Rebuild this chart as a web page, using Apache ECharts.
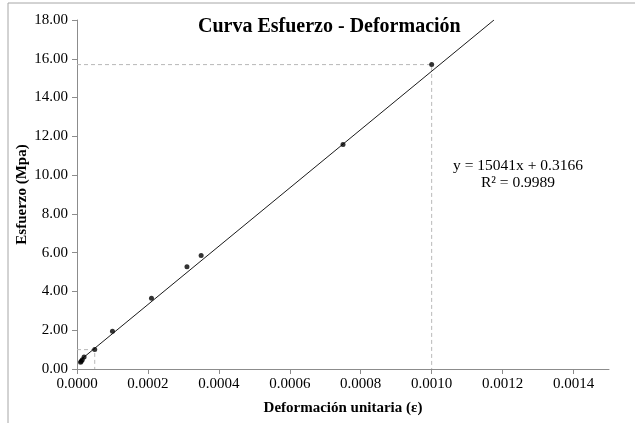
<!DOCTYPE html>
<html>
<head>
<meta charset="utf-8">
<script src="https://cdn.jsdelivr.net/npm/echarts@6/dist/echarts.min.js"></script>
<style>html,body{margin:0;padding:0;background:#fff;}#c{width:635px;height:423px;}</style>
</head>
<body>
<div id="c"></div>
<script>
var strain = [0.00001, 0.000012, 0.000015, 0.00002, 0.00005, 0.0001, 0.00021, 0.00031, 0.00035, 0.00075, 0.001];
var stress = [0.35, 0.40, 0.48, 0.62, 1.00, 1.95, 3.65, 5.28, 5.85, 11.58, 15.70];
var trendSlope = 15041;
var trendIntercept = 0.3166;
var trendR2 = '0.9989';
var xTicks = [0, 0.0002, 0.0004, 0.0006, 0.0008, 0.0010, 0.0012, 0.0014];
var yTicks = [0, 2, 4, 6, 8, 10, 12, 14, 16, 18];
var guideHigh = [0.001, 15.70];
var guideLow = [0.00005, 1.00];

var font = '"Liberation Serif", "Times New Roman", serif';
var pts = strain.map(function (x, i) { return [x, stress[i]]; });
var yMax = yTicks[yTicks.length - 1];
var xStart = strain[0];
var xEnd = (yMax - trendIntercept) / trendSlope;
var trend = [[xStart, trendSlope * xStart + trendIntercept], [xEnd, yMax]];

var chart = echarts.init(document.getElementById('c'), null, {renderer: 'canvas'});
chart.setOption({
  animation: false,
  backgroundColor: '#ffffff',
  title: {
    text: 'Curva Esfuerzo - Deformación',
    left: 193, top: 12,
    textStyle: {fontFamily: font, fontSize: 20, fontWeight: 'bold', color: '#000'}
  },
  grid: {left: 77, right: 26, top: 20, bottom: 54},
  xAxis: {
    type: 'value', min: 0, max: 0.0015, interval: 0.0002,
    name: 'Deformación unitaria (ε)', nameLocation: 'middle', nameGap: 32, nameMoveOverlap: false,
    nameTextStyle: {fontFamily: font, fontSize: 15, fontWeight: 'bold', color: '#000'},
    axisLine: {lineStyle: {color: '#8c8c8c', width: 1}},
    axisTick: {show: true, length: 5, lineStyle: {color: '#8c8c8c'}, customValues: xTicks},
    axisLabel: {fontFamily: font, fontSize: 15, color: '#000', margin: 8, customValues: xTicks,
      formatter: function (v) { return v.toFixed(4); }},
    splitLine: {show: false}
  },
  yAxis: {
    type: 'value', min: 0, max: yMax, interval: 2,
    name: 'Esfuerzo (Mpa)', nameLocation: 'middle', nameGap: 47, nameMoveOverlap: false,
    nameTextStyle: {fontFamily: font, fontSize: 15, fontWeight: 'bold', color: '#000'},
    axisLine: {show: true, lineStyle: {color: '#8c8c8c', width: 1}},
    axisTick: {show: true, length: 5, lineStyle: {color: '#8c8c8c'}},
    axisLabel: {fontFamily: font, fontSize: 15, color: '#000', margin: 9,
      formatter: function (v) { return v.toFixed(2); }},
    splitLine: {show: false}
  },
  graphic: [
    {type: 'rect', silent: true, z: -10, shape: {x: 8, y: 3, width: 700, height: 500},
      style: {fill: 'none', stroke: '#a6a6a6', lineWidth: 1}},
    {type: 'text', x: 518, y: 158, style: {text: 'y = ' + trendSlope + 'x + ' + trendIntercept, fontFamily: font, fontSize: 15.5, fill: '#000', align: 'center'}},
    {type: 'text', x: 518, y: 175, style: {text: 'R² = ' + trendR2, fontFamily: font, fontSize: 15.5, fill: '#000', align: 'center'}}
  ],
  series: [
    {type: 'line', data: [[0, guideHigh[1]], guideHigh, [guideHigh[0], 0]], symbol: 'none',
      lineStyle: {color: '#b8b8b8', width: 1, type: [4, 3]}, z: 1},
    {type: 'line', data: [[0, guideLow[1]], guideLow, [guideLow[0], 0]], symbol: 'none',
      lineStyle: {color: '#b8b8b8', width: 1, type: [4, 3]}, z: 1},
    {type: 'line', data: trend, symbol: 'none',
      lineStyle: {color: '#1a1a1a', width: 1}, z: 2},
    {type: 'scatter', data: pts, symbol: 'circle', symbolSize: 5,
      itemStyle: {color: '#000'}, z: 3}
  ]
});
</script>
</body>
</html>
